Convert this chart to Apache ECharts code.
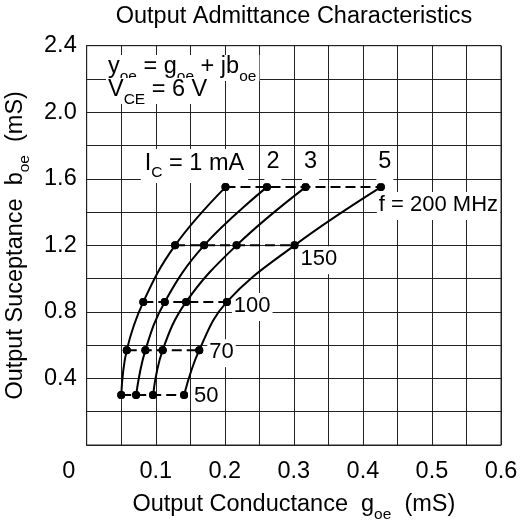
<!DOCTYPE html>
<html><head><meta charset="utf-8">
<script src="https://cdn.jsdelivr.net/npm/echarts@6/dist/echarts.min.js"></script>
<style>html,body{margin:0;padding:0;background:#fff}#c{width:520px;height:525px}</style>
</head><body><div id="c"></div>
<script>
// ---- data ----
const freqsMHz = [50, 70, 100, 150, 200];
const currentsmA = [1, 2, 3, 5];
const bByFreq = [0.30, 0.57, 0.86, 1.20, 1.55];          // b_oe (mS), same for every I_C at a given f
const g1mA = [0.050, 0.058, 0.082, 0.128, 0.201];          // g_oe (mS)
const g2mA = [0.0715, 0.085, 0.113, 0.170, 0.261];
const g3mA = [0.096, 0.110, 0.144, 0.217, 0.317];
const g5mA = [0.141, 0.163, 0.203, 0.301, 0.426];
const xTickLabels = ['0', '0.1', '0.2', '0.3', '0.4', '0.5', '0.6'];
const yTickLabels = ['0.4', '0.8', '1.2', '1.6', '2.0', '2.4'];
const currentLabels = ['{n|I}{s|C}{n| = 1 mA}', '{n|2}', '{n|3}', '{n|5}'];
const freqLabels = ['{m|50}', '{m|70}', '{m|100}', '{m|150}', '{m|f = 200 MHz}'];

// ---- styling / placement (not data) ----
const FONT = '"Liberation Sans", Arial, Helvetica, sans-serif';
const FS = 23.5, SFS = 15.5;
const rich = {
  n: {fontSize: FS, fontFamily: FONT, color: '#000', lineHeight: 26, verticalAlign: 'top'},
  m: {fontSize: 22, fontFamily: FONT, color: '#000', lineHeight: 24, verticalAlign: 'top'},
  s: {fontSize: SFS, fontFamily: FONT, color: '#000', lineHeight: 15, padding: [13.5, 0, 0, 0], verticalAlign: 'top'}
};
const curLabelPlace = [
  {position: 'top', distance: 0, offset: [-31, 0], padding: [2, 4, 6, 4]},
  {position: 'top', distance: 0, offset: [6, 0], padding: [2, 2, 8, 2]},
  {position: 'top', distance: 0, offset: [5, 0], padding: [2, 2, 8, 2]},
  {position: 'top', distance: 0, offset: [4, 0], padding: [2, 2, 8, 2]}
];
const freqLabelPlace = [
  {position: [12, -8]}, {position: [12, -7]}, {position: [9, -5]}, {position: [8, 5]}, {position: [0, 9]}
];
const gByCurrent = [g1mA, g2mA, g3mA, g5mA];

const series = [];
// dashed constant-frequency lines
freqsMHz.forEach((f, j) => {
  const data = gByCurrent.map((g, i) => {
    const item = {value: [g[j], bByFreq[j]]};
    if (i === gByCurrent.length - 1) {
      item.label = Object.assign({
        show: true, formatter: freqLabels[j], rich: rich,
        backgroundColor: '#fff', padding: [2, 2, 2, 2]
      }, freqLabelPlace[j]);
    }
    return item;
  });
  series.push({
    type: 'line', name: f + ' MHz', data: data, z: 3,
    symbol: 'circle', symbolSize: 8, itemStyle: {color: '#000'},
    lineStyle: {color: '#000', width: 2, type: [10, 5]},
    label: {show: false}, emphasis: {disabled: true}, animation: false
  });
});
// solid constant-current curves
currentsmA.forEach((c, i) => {
  const g = gByCurrent[i];
  const data = freqsMHz.map((f, j) => {
    const item = {value: [g[j], bByFreq[j]]};
    if (j === freqsMHz.length - 1) {
      item.label = Object.assign({
        show: true, formatter: currentLabels[i], rich: rich,
        backgroundColor: '#fff'
      }, curLabelPlace[i]);
    }
    return item;
  });
  series.push({
    type: 'line', name: c + ' mA', data: data, z: 4,
    smooth: 0.4, symbol: 'circle', symbolSize: 8, itemStyle: {color: '#000'},
    lineStyle: {color: '#000', width: 2},
    label: {show: false}, emphasis: {disabled: true}, animation: false
  });
});

const chart = echarts.init(document.getElementById('c'), null, {renderer: 'canvas'});
chart.setOption({
  backgroundColor: '#fff',
  animation: false,
  title: {
    text: 'Output Admittance Characteristics', left: 294, top: 5, padding: 0, textAlign: 'center',
    textStyle: {fontSize: FS, fontWeight: 'normal', color: '#000', fontFamily: FONT}
  },
  grid: {left: 86.7, right: 19, top: 45.7, bottom: 80, show: true, borderColor: '#222', borderWidth: 1,
         containLabel: false, outerBoundsMode: 'none'},
  xAxis: {
    type: 'value', min: 0, max: 0.6, interval: 0.05,
    name: '{n|Output Conductance  g}{s|oe}{n|  (mS)}', nameLocation: 'middle', nameGap: 48,
    nameTextStyle: {rich: rich},
    axisLine: {show: true, lineStyle: {color: '#222', width: 1}}, axisTick: {show: false},
    splitLine: {show: true, lineStyle: {color: '#222', width: 1}},
    axisLabel: {
      margin: 15, fontSize: FS, color: '#000', fontFamily: FONT,
      formatter: v => {
        const k = Math.round(v * 100);
        if (k % 10 !== 0) return '';
        const t = xTickLabels[k / 10];
        return k === 0 ? '{z|' + t + '}' : t;
      },
      rich: {z: {fontSize: FS, fontFamily: FONT, color: '#000', padding: [0, 36, 0, 0]}}
    }
  },
  yAxis: {
    type: 'value', min: 0, max: 2.4, interval: 0.2,
    name: '{n|Output Suceptance  b}{s|oe}{n|  (mS)}', nameLocation: 'middle', nameGap: 55,
    nameTextStyle: {rich: rich},
    axisLine: {show: true, lineStyle: {color: '#222', width: 1}}, axisTick: {show: false},
    splitLine: {show: true, lineStyle: {color: '#222', width: 1}},
    axisLabel: {
      margin: 10, fontSize: FS, color: '#000', fontFamily: FONT,
      formatter: v => {
        const k = Math.round(v * 10);
        if (k === 0 || k % 4 !== 0) return '';
        return yTickLabels[k / 4 - 1];
      }
    }
  },
  graphic: [
    {type: 'text', left: 106, top: 55, z: 100,
     style: {text: '{n|y}{s|oe}{n| = g}{s|oe}{n| + jb}{s|oe}', rich: rich, backgroundColor: '#fff', padding: [0, 3, 0, 2]}},
    {type: 'text', left: 106, top: 78, z: 100,
     style: {text: '{n|V}{s|CE}{n| = 6 V}', rich: rich, backgroundColor: '#fff', padding: [0, 3, 0, 2]}}
  ],
  series: series
});
</script></body></html>
